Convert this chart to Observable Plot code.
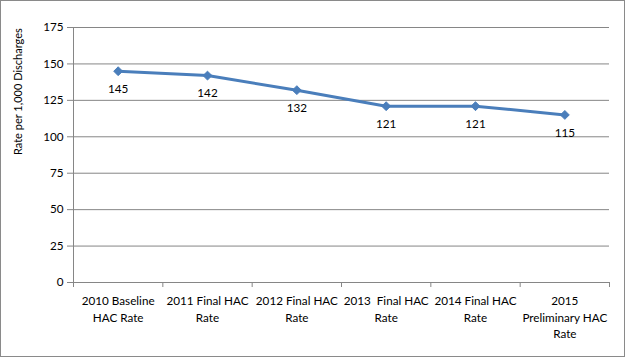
<!DOCTYPE html>
<html><head><meta charset="utf-8">
<script src="https://cdn.jsdelivr.net/npm/d3@7"></script>
<script src="https://cdn.jsdelivr.net/npm/@observablehq/plot@0.6"></script>
<style>
body{margin:0;background:#fff}
#chart svg{display:block;outline:1px solid #8a8a8a;outline-offset:-1px}
</style>
</head><body><div id="chart"></div>
<script>
const categories = [
  "2010 Baseline\nHAC Rate",
  "2011 Final HAC\nRate",
  "2012 Final HAC\nRate",
  "2013  Final HAC\nRate",
  "2014 Final HAC\nRate",
  "2015\nPreliminary HAC\nRate"
];
const values = [145, 142, 132, 121, 121, 115];
const yTicks = [0, 25, 50, 75, 100, 125, 150, 175];
const yTitle = "Rate per 1,000 Discharges";

const data = categories.map((c, i) => ({pos: i + 0.5, label: c, value: values[i]}));
const bounds = d3.range(categories.length + 1);
const blue = "#4a7ebb";
const grid = "#868686";
const fs = 11.7;

const plot = Plot.plot({
  width: 625, height: 357,
  marginLeft: 73, marginRight: 16, marginTop: 27, marginBottom: 75,
  style: {fontFamily: "Lato, 'Open Sans', sans-serif", fontSize: "11px", color: grid, background: "white"},
  x: {domain: [0, categories.length], ticks: bounds, tickSize: 5, tickFormat: () => "", label: null},
  y: {domain: [0, 175], ticks: yTicks, tickSize: 6, tickFormat: () => "", label: null},
  marks: [
    Plot.ruleY(yTicks, {stroke: grid}),
    Plot.ruleX([0], {stroke: grid}),
    Plot.text(yTicks, {x: 0, y: d => d, text: d => String(d), textAnchor: "end", dx: -10, fontSize: fs, fill: "black"}),
    Plot.text(data, {x: "pos", y: 0, text: "label", lineAnchor: "top", dy: 11, lineHeight: 1.4, fontSize: fs, fill: "black"}),
    Plot.line(data, {x: "pos", y: "value", stroke: blue, strokeWidth: 3}),
    Plot.dot(data, {x: "pos", y: "value", symbol: "diamond2", r: 4, fill: blue, stroke: blue, strokeWidth: 1}),
    Plot.text(data, {x: "pos", y: "value", text: d => String(d.value), dy: 18, fontSize: fs, fill: "black"}),
    Plot.text([yTitle], {frameAnchor: "left", text: d => d, rotate: -90, dx: -55, fontSize: 11, fill: "black"})
  ]
});
document.getElementById("chart").append(plot);
</script>
</body></html>
